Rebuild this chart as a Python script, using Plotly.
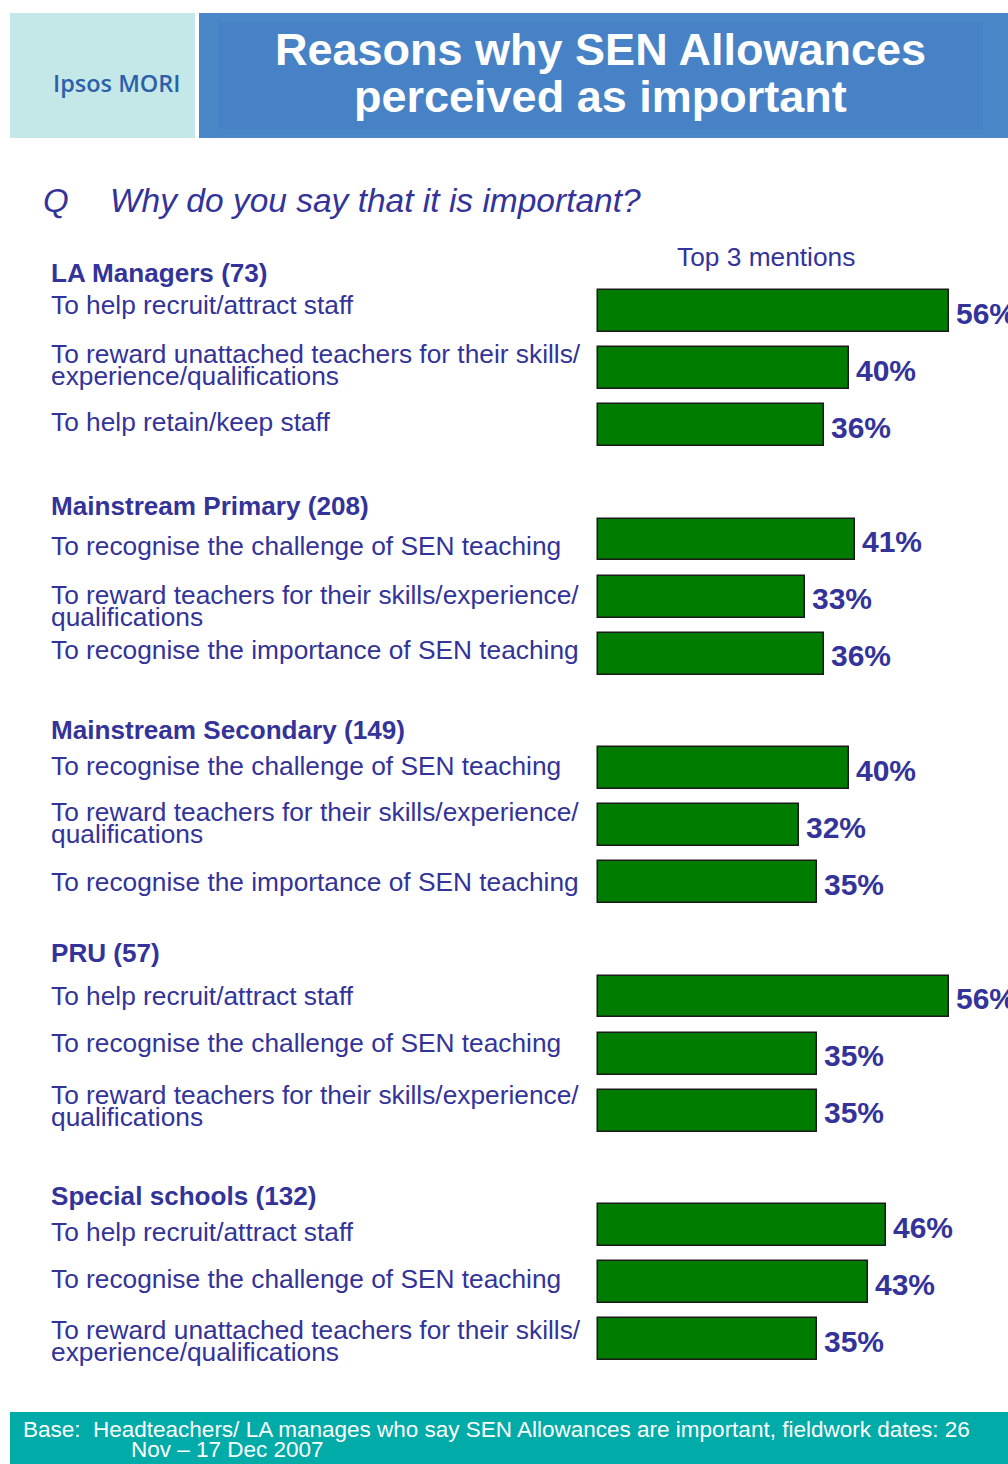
import plotly.graph_objects as go

# ---------------- data ----------------
groups = ["LA Managers (73)", "Mainstream Primary (208)", "Mainstream Secondary (149)",
          "PRU (57)", "Special schools (132)"]
labels = [
    ["To help recruit/attract staff",
     "To reward unattached teachers for their skills/<br>experience/qualifications",
     "To help retain/keep staff"],
    ["To recognise the challenge of SEN teaching",
     "To reward teachers for their skills/experience/<br>qualifications",
     "To recognise the importance of SEN teaching"],
    ["To recognise the challenge of SEN teaching",
     "To reward teachers for their skills/experience/<br>qualifications",
     "To recognise the importance of SEN teaching"],
    ["To help recruit/attract staff",
     "To recognise the challenge of SEN teaching",
     "To reward teachers for their skills/experience/<br>qualifications"],
    ["To help recruit/attract staff",
     "To recognise the challenge of SEN teaching",
     "To reward unattached teachers for their skills/<br>experience/qualifications"],
]
values = [
    [56, 40, 36],
    [41, 33, 36],
    [40, 32, 35],
    [56, 35, 35],
    [46, 43, 35],
]
title_lines = ["Reasons why SEN Allowances", "perceived as important"]
question = "Why do you say that it is important?"
subtitle = "Top 3 mentions"
footer_lines = ["Base:  Headteachers/ LA manages who say SEN Allowances are important, fieldwork dates: 26",
                "Nov \u2013 17 Dec 2007"]

# ---------------- style ----------------
PAGE_OFF = 0               # body margin removed via post_script
PAD = 3                    # annotation inner padding
W, H = 1008, 1464
TXT = "#333399"
FONT = "Liberation Sans, Arial, sans-serif"
SLOTS_PER_GROUP = 4
PX_PER_SLOT = 57.125
FIRST_BAR_PX = 311 - PAGE_OFF
PX_PER_PCT = 6.27
BAR_LEFT_PX = 598 - PAGE_OFF
label_dy = [[-6, -3, -3], [6, 9, -4], [-2, -2, 0], [-1, -11, -5], [7, -3, 2]]
header_dy = [-38, -34, -38, -44, -29]

ys, xs = [], []
for g, vals in enumerate(values):
    for i, v in enumerate(vals):
        ys.append(g * SLOTS_PER_GROUP + i)
        xs.append(v)

fig = go.Figure()
fig.add_trace(go.Bar(
    x=xs, y=ys, orientation="h", width=0.735,
    marker=dict(color="#007D00", line=dict(color="#1a1a1a", width=1.5)),
    hoverinfo="skip", showlegend=False,
))


def px(xp, yp):
    """page pixel -> paper coords"""
    return (xp - PAGE_OFF) / W, 1 - (yp - PAGE_OFF) / H


ann = []
# value labels
for x, y in zip(xs, ys):
    ann.append(dict(x=x, y=y, xref="x", yref="y", text=f"<b>{x}%</b>", showarrow=False,
                    xanchor="left", yanchor="middle", xshift=5, yshift=-2,
                    font=dict(family=FONT, size=30, color=TXT)))
# category labels
lab_x = px(52 - PAD, 0)[0]
for g in range(len(groups)):
    y0 = g * SLOTS_PER_GROUP
    ann.append(dict(x=lab_x, y=y0, xref="paper", yref="y", text=f"<b>{groups[g]}</b>",
                    showarrow=False, xanchor="left", yanchor="middle",
                    yshift=-header_dy[g], font=dict(family=FONT, size=26.1, color=TXT)))
    for i, lab in enumerate(labels[g]):
        lines = lab.split("<br>")
        n = len(lines)
        for k, line in enumerate(lines):
            off = (k - (n - 1) / 2) * 22
            ann.append(dict(x=lab_x, y=y0 + i, xref="paper", yref="y", text=line,
                            showarrow=False, xanchor="left", yanchor="middle",
                            yshift=-(label_dy[g][i] + off),
                            font=dict(family=FONT, size=26.3, color=TXT)))

# header texts
for k, line in enumerate(title_lines):
    xx, yy = px(600, 50 + 47 * k)
    ann.append(dict(x=xx, y=yy, xref="paper", yref="paper", text=f"<b>{line}</b>",
                    showarrow=False, xanchor="center", yanchor="middle",
                    font=dict(family=FONT, size=45, color="white")))
xx, yy = px(116, 83)
ann.append(dict(x=xx, y=yy, xref="paper", yref="paper", text="Ipsos MORI", showarrow=False,
                xanchor="center", yanchor="middle",
                font=dict(family="Open Sans, sans-serif", size=23.5, color="#2E5FA8", weight=600)))
xx, yy = px(44 - PAD, 200)
ann.append(dict(x=xx, y=yy, xref="paper", yref="paper", text="<i>Q</i>", showarrow=False,
                xanchor="left", yanchor="middle", font=dict(family=FONT, size=33, color=TXT)))
xx, yy = px(111 - PAD, 200)
ann.append(dict(x=xx, y=yy, xref="paper", yref="paper", text=f"<i>{question}</i>", showarrow=False,
                xanchor="left", yanchor="middle", font=dict(family=FONT, size=33.5, color=TXT)))
xx, yy = px(678 - PAD, 257)
ann.append(dict(x=xx, y=yy, xref="paper", yref="paper", text=subtitle, showarrow=False,
                xanchor="left", yanchor="middle", font=dict(family=FONT, size=26.3, color=TXT)))
for k, (line, lx) in enumerate(zip(footer_lines, [24, 132])):
    xx, yy = px(lx - PAD, 1429 + 20 * k)
    ann.append(dict(x=xx, y=yy, xref="paper", yref="paper", text=line, showarrow=False,
                    xanchor="left", yanchor="middle",
                    font=dict(family=FONT, size=22.5, color="white")))


def rect(x0, y0, x1, y1, color):
    a0, b1 = px(x0, y0)
    a1, b0 = px(x1, y1)
    return dict(type="rect", xref="paper", yref="paper", x0=a0, x1=a1,
                y0=b0, y1=b1, fillcolor=color, line=dict(width=0), layer="below")


shapes = [
    rect(10, 13, 195, 138, "#C4E8E8"),
    rect(199, 13, 1008, 138, "#4A87C8"),
    rect(218, 22, 983, 129, "#4682C5"),
    rect(10, 1412, 1008, 1464, "#00ABA8"),
]

fig.update_layout(
    width=W, height=H, margin=dict(l=0, r=0, t=0, b=0),
    paper_bgcolor="white", plot_bgcolor="white",
    xaxis=dict(range=[-BAR_LEFT_PX / PX_PER_PCT, (W - BAR_LEFT_PX) / PX_PER_PCT],
               visible=False, fixedrange=True),
    yaxis=dict(range=[(H - FIRST_BAR_PX) / PX_PER_SLOT, -FIRST_BAR_PX / PX_PER_SLOT],
               visible=False, fixedrange=True),
    annotations=ann, shapes=shapes, bargap=0,
)
fig.write_html("out.html", config={"displayModeBar": False},
               post_script="document.body.style.margin='0';document.body.style.overflow='hidden';")
